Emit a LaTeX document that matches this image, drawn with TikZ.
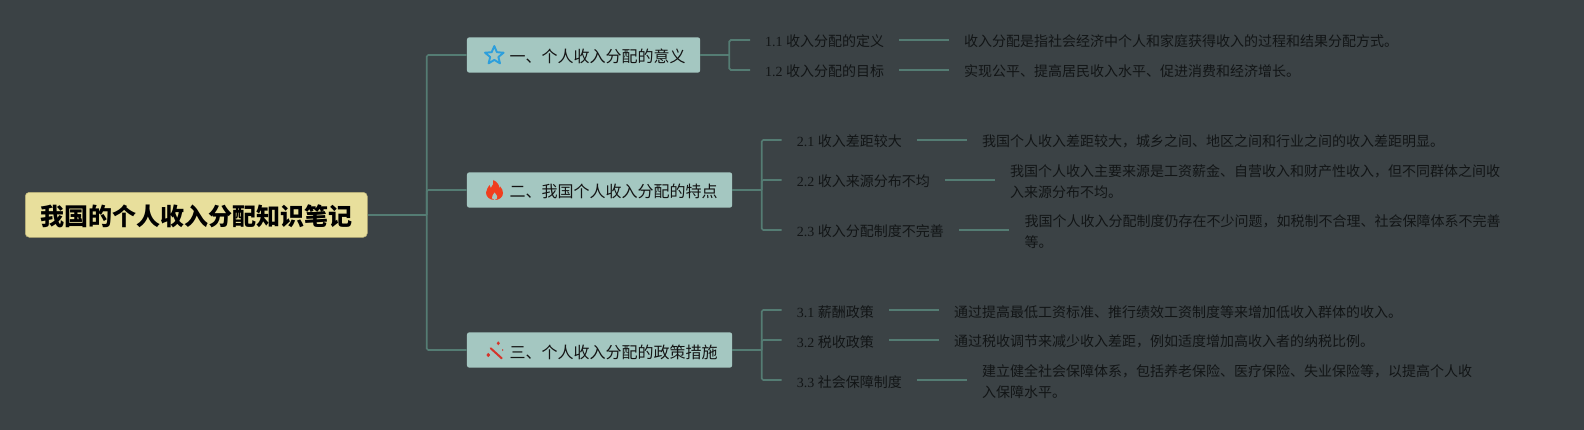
\documentclass[tikz,border=0pt]{standalone}
\usepackage{fontspec}
\setmainfont{Liberation Serif}
\newfontfamily\cjk{Noto Sans CJK SC}
\definecolor{bgc}{HTML}{3B4245}
\definecolor{linec}{HTML}{547C73}
\definecolor{rootc}{HTML}{E8DF9C}
\definecolor{rootb}{HTML}{B9B077}
\definecolor{branchc}{HTML}{A4C7C1}
\definecolor{leaft}{HTML}{121516}
\definecolor{starc}{HTML}{2D9FDC}
\definecolor{firec}{HTML}{F03E1E}
\definecolor{wandc}{HTML}{D5342A}
\newcommand{\lab}[2]{#1 {\cjk #2}}
\tikzset{
  conn/.style={draw=linec,line width=1.7pt,rounded corners=1.5pt},
  rootbox/.style={draw=rootb,line width=.5pt,fill=rootc,rounded corners=4pt,anchor=west,minimum width=342pt,minimum height=45pt,inner xsep=15pt,inner ysep=0pt,text height=22pt,text depth=0pt,text=black,font=\fontsize{24}{24}\selectfont\cjk\bfseries,align=left},
  branchbox/.style={fill=branchc,rounded corners=2.5pt,anchor=west,minimum height=35.4pt,inner xsep=0pt,inner ysep=0pt,text height=16pt,text depth=0pt,text=black!92,font=\fontsize{16}{16}\selectfont\cjk},
  labelnode/.style={anchor=west,inner xsep=15pt,inner ysep=0pt,text height=14pt,text depth=0pt,text=leaft,font=\fontsize{14}{14}\selectfont},
  descnode/.style={anchor=west,inner xsep=15pt,inner ysep=0pt,text=leaft,align=left,font=\fontsize{14}{20.4}\selectfont\cjk},
}
\begin{document}
\begin{tikzpicture}[x=1pt,y=-1pt]
\fill[bgc] (0,0) rectangle (1584,430);
\useasboundingbox (0,0) rectangle (1584,430);
% central topic and branches
\node[rootbox] (root) at (25,214.8) {我国的个人收入分配知识笔记};
\node[branchbox] (b1) at (466.7,55) {\hspace*{42.6pt}一、个人收入分配的意义\hspace*{14.7pt}};
\node[branchbox] (b2) at (466.7,190) {\hspace*{42.6pt}二、我国个人收入分配的特点\hspace*{14.7pt}};
\node[branchbox] (b3) at (466.7,350) {\hspace*{42.6pt}三、个人收入分配的政策措施\hspace*{14.7pt}};
% junctions
\coordinate (jr) at (426.7,214.8);
\coordinate (j1) at (729.3,55);
\coordinate (j2) at (761.7,190);
\coordinate (j3) at (761.7,350);
% sub topics
\node[labelnode] (l11) at (750,40) {\lab{1.1}{收入分配的定义}};
\node[labelnode] (l12) at (750,70) {\lab{1.2}{收入分配的目标}};
\node[labelnode] (l21) at (781.7,140) {\lab{2.1}{收入差距较大}};
\node[labelnode] (l22) at (781.7,180) {\lab{2.2}{收入来源分布不均}};
\node[labelnode] (l23) at (781.7,230) {\lab{2.3}{收入分配制度不完善}};
\node[labelnode] (l31) at (781.7,310) {\lab{3.1}{薪酬政策}};
\node[labelnode] (l32) at (781.7,340) {\lab{3.2}{税收政策}};
\node[labelnode] (l33) at (781.7,380) {\lab{3.3}{社会保障制度}};
% descriptions
\node[descnode] (d11) at (949,41.2) {收入分配是指社会经济中个人和家庭获得收入的过程和结果分配方式。};
\node[descnode] (d12) at (949,71.4) {实现公平、提高居民收入水平、促进消费和经济增长。};
\node[descnode] (d21) at (967,141.4) {我国个人收入差距较大，城乡之间、地区之间和行业之间的收入差距明显。};
\node[descnode] (d22) at (995,181.5) {我国个人收入主要来源是工资薪金、自营收入和财产性收入，但不同群体之间收\\入来源分布不均。};
\node[descnode] (d23) at (1009.3,231.7) {我国个人收入分配制度仍存在不少问题，如税制不合理、社会保障体系不完善\\等。};
\node[descnode] (d31) at (939,311.7) {通过提高最低工资标准、推行绩效工资制度等来增加低收入群体的收入。};
\node[descnode] (d32) at (939,341.7) {通过税收调节来减少收入差距，例如适度增加高收入者的纳税比例。};
\node[descnode] (d33) at (967,381.7) {建立健全社会保障体系，包括养老保险、医疗保险、失业保险等，以提高个人收\\入保障水平。};
% connectors
\draw[conn] (root.east) -- (jr);
\draw[conn] (jr) |- (b1.west);
\draw[conn] (jr) -- (jr |- b2.west) -- (b2.west);
\draw[conn] (jr) |- (b3.west);
\draw[conn] (b1.east) -- (j1);
\draw[conn] (b2.east) -- (j2);
\draw[conn] (b3.east) -- (j3);
\draw[conn] (j1) |- (l11.west);
\draw[conn] (j1) |- (l12.west);
\draw[conn] (j2) |- (l21.west);
\draw[conn] (j2) |- (l22.west);
\draw[conn] (j2) |- (l23.west);
\draw[conn] (j3) |- (l31.west);
\draw[conn] (j3) |- (l32.west);
\draw[conn] (j3) |- (l33.west);
\foreach \n in {11,12,21,22,23,31,32,33}
  \draw[conn] (l\n.east) -- (l\n.east -| d\n.west);
% star icon
\draw[starc,line width=1.9pt,line join=round]
  (494.3,46) -- (496.9,52.2) -- (503.6,52.7) -- (498.4,57) -- (500,63.4)
  -- (494.3,59.9) -- (488.6,63.4) -- (490.2,57) -- (485,52.7) -- (491.7,52.2) -- cycle;
% flame icon
\fill[firec] (494.8,200) .. controls (489.5,200) and (486,196.8) .. (486,192.5)
  .. controls (486,189) and (488.5,187.5) .. (489.5,185)
  .. controls (490,186) and (490.5,187) .. (490.8,188)
  .. controls (492.8,186) and (493.8,183) .. (493.3,180)
  .. controls (497.5,182) and (499.5,185.5) .. (499.5,188.5)
  .. controls (500,187.8) and (500.2,187) .. (500.2,186.5)
  .. controls (502,188.5) and (503,190.5) .. (503,193)
  .. controls (503,197) and (499.5,200) .. (494.8,200) -- cycle;
\fill[branchc] (494.5,200) .. controls (492,199.5) and (491.5,197.5) .. (492.3,196)
  .. controls (493,195) and (494,194) .. (494.5,192.5)
  .. controls (495.5,194) and (497,195) .. (497.2,196.5)
  .. controls (497.5,198.5) and (496.5,199.5) .. (494.5,200) -- cycle;
% wand icon
\draw[wandc,line width=2pt,line cap=round] (490.7,348.3) -- (501.7,358.3);
\fill[wandc] (498.3,341.3) -- (499.9,343.3) -- (498.3,345.3) -- (496.7,343.3) -- cycle;
\fill[wandc] (488.3,352.8) -- (490.2,355) -- (488.3,357.2) -- (486.4,355) -- cycle;
\fill[wandc] (502.7,349) -- (503.4,350) -- (502.7,351) -- (502,350) -- cycle;
\end{tikzpicture}
\end{document}
